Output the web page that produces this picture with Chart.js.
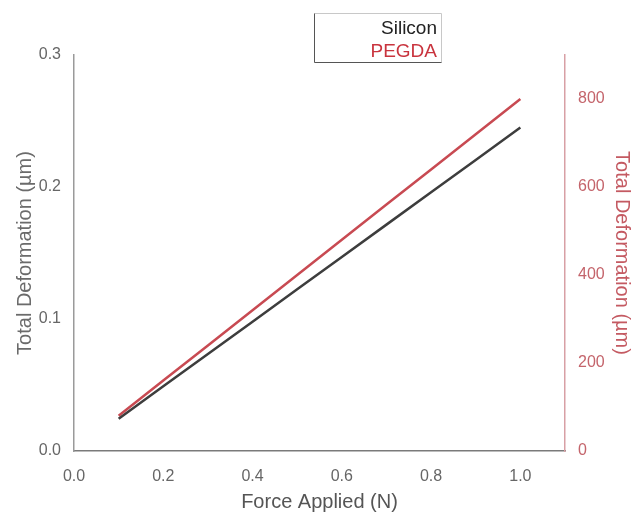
<!DOCTYPE html>
<html>
<head>
<meta charset="utf-8">
<script src="https://cdn.jsdelivr.net/npm/chart.js@4.4.0/dist/chart.umd.min.js"></script>
<style>
  html, body { margin: 0; padding: 0; background: #fff; }
  #wrap { width: 632px; height: 513px; position: relative; }
</style>
</head>
<body>
<div id="wrap"><canvas id="myChart" width="632" height="513"></canvas></div>
<script>
const forceApplied = [0.1, 0.2, 0.3, 0.4, 0.5, 0.6, 0.7, 0.8, 0.9, 1.0];
const siliconDeform = [0.0245, 0.049, 0.0735, 0.098, 0.1225, 0.147, 0.1715, 0.196, 0.2205, 0.245];
const pegdaDeform = [80, 160, 240, 320, 400, 480, 560, 640, 720, 800];
const seriesNames = ["Silicon", "PEGDA"];

const ctx = document.getElementById("myChart");
const font = "'Liberation Sans', Arial, sans-serif";

// legend box drawn by hand, text only (no swatches)
const boxLegend = {
  id: "boxLegend",
  afterDraw(chart) {
    const c = chart.ctx;
    c.save();
    c.fillStyle = "#fff";
    c.fillRect(314, 13, 128, 50);
    c.lineWidth = 1;
    c.strokeStyle = "#c8c8c8";
    c.beginPath();
    c.moveTo(314.5, 13.5); c.lineTo(441.5, 13.5); c.lineTo(441.5, 62.5);
    c.stroke();
    c.strokeStyle = "#555";
    c.beginPath();
    c.moveTo(314.5, 13.5); c.lineTo(314.5, 62.5); c.lineTo(441.5, 62.5);
    c.stroke();
    c.font = "19px " + font;
    c.textAlign = "right";
    c.textBaseline = "alphabetic";
    chart.data.datasets.forEach((ds, i) => {
      c.fillStyle = i === 0 ? "#222" : "#c9343e";
      c.fillText(ds.label, 437, 34 + i * 23);
    });
    c.restore();
  }
};

const toPoints = (ys) => ys.map((y, i) => ({ x: forceApplied[i], y: y }));

new Chart(ctx, {
  type: "line",
  data: {
    datasets: [
      {
        label: seriesNames[0],
        data: toPoints(siliconDeform),
        borderColor: "#3d3d3d",
        borderWidth: 2.5,
        pointRadius: 0,
        yAxisID: "y",
      },
      {
        label: seriesNames[1],
        data: toPoints(pegdaDeform),
        borderColor: "#c84a52",
        borderWidth: 2.5,
        pointRadius: 0,
        yAxisID: "y1",
      },
    ],
  },
  options: {
    responsive: false,
    animation: false,
    layout: { padding: { top: 55, left: 0, right: 0, bottom: 0 } },
    plugins: { legend: { display: false }, tooltip: { enabled: false } },
    scales: {
      x: {
        type: "linear",
        min: 0,
        max: 1.1,
        grid: { display: false, drawTicks: false },
        border: { display: true, color: "#7a7a7a", width: 1.5 },
        ticks: {
          stepSize: 0.2,
          includeBounds: false,
          padding: 16,
          color: "#666",
          font: { family: font, size: 16 },
          callback: (v) => v.toFixed(1),
        },
        title: {
          display: true,
          text: "Force Applied (N)",
          color: "#555",
          font: { family: font, size: 20, lineHeight: 1 },
          padding: { top: 0, bottom: 1 },
        },
        afterFit: (s) => { s.height = 62; },
      },
      y: {
        position: "left",
        min: 0,
        max: 0.3,
        grid: { display: false, drawTicks: false },
        border: { display: true, color: "#9a9a9a", width: 1.5 },
        ticks: {
          stepSize: 0.1,
          padding: 13,
          color: "#666",
          font: { family: font, size: 16 },
          callback: (v) => v.toFixed(1),
        },
        title: {
          display: true,
          text: "Total Deformation (µm)",
          color: "#6b6b6b",
          font: { family: font, size: 20, lineHeight: 1 },
          padding: { top: 15, bottom: 0 },
        },
        afterFit: (s) => { s.width = 74; },
      },
      y1: {
        position: "right",
        min: 0,
        max: 900,
        grid: { display: false, drawTicks: false },
        border: { display: true, color: "#d8a0a5", width: 1.5 },
        ticks: {
          stepSize: 200,
          includeBounds: false,
          padding: 13,
          color: "#c4646b",
          font: { family: font, size: 16 },
        },
        title: {
          display: true,
          text: "Total Deformation (µm)",
          color: "#c45a62",
          font: { family: font, size: 20, lineHeight: 1 },
          padding: { top: 0, bottom: 0 },
        },
        afterFit: (s) => { s.width = 67; },
      },
    },
  },
  plugins: [boxLegend],
});
</script>
</body>
</html>
